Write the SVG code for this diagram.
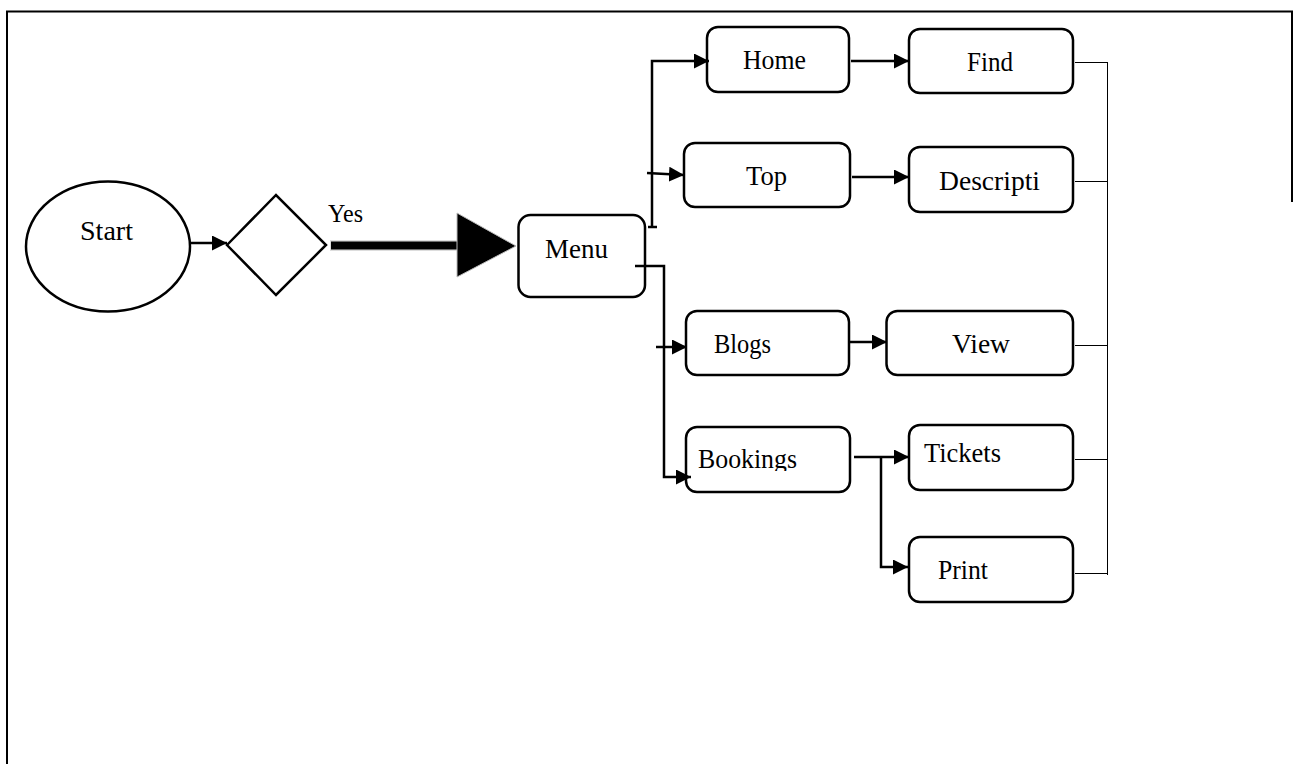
<svg xmlns="http://www.w3.org/2000/svg" width="1294" height="764" viewBox="0 0 1294 764">
<style>
.box{fill:#fff;stroke:#000;stroke-width:2.5}
.lbl{font-family:"Liberation Serif","Times New Roman",serif;font-size:28px;fill:#000}
.ln{fill:none;stroke:#000;stroke-width:2.5}
.thin{fill:none;stroke:#000;stroke-width:1}
</style>
<defs>
<marker id="ah" markerWidth="15" markerHeight="15" refX="15" refY="7.5" orient="auto" markerUnits="userSpaceOnUse">
<path d="M0,0 L15,7.5 L0,15 Z" fill="#000"/>
</marker>
<clipPath id="bkclip"><rect x="680" y="420" width="180" height="51"/></clipPath>
</defs>
<rect width="1294" height="764" fill="#fff"/>
<g id="frame">
<path d="M7,764 L7,11.5 L1292,11.5 L1292,202" fill="none" stroke="#000" stroke-width="2"/>
</g>
<g id="start"><ellipse cx="108" cy="246.5" rx="82" ry="65" class="box"/><text x="80" y="240" class="lbl" textLength="53" lengthAdjust="spacingAndGlyphs">Start</text></g>
<g id="decision"><path d="M227,245 L276,195 L326,245 L276,295 Z" class="box"/></g>
<g id="yes-label"><text x="328" y="222" class="lbl" style="font-size:26px" textLength="35" lengthAdjust="spacingAndGlyphs">Yes</text></g>
<g id="menu"><rect x="518.5" y="215" width="126.5" height="82" rx="12" class="box"/><text x="545" y="258" class="lbl" textLength="63" lengthAdjust="spacingAndGlyphs">Menu</text></g>
<g id="home"><rect x="707" y="27" width="142" height="65" rx="11" class="box"/><text x="743" y="69" class="lbl" textLength="63" lengthAdjust="spacingAndGlyphs">Home</text></g>
<g id="find"><rect x="909" y="29" width="164" height="64" rx="11" class="box"/><text x="967" y="71" class="lbl" textLength="46" lengthAdjust="spacingAndGlyphs">Find</text></g>
<g id="top"><rect x="684" y="143" width="166" height="64" rx="11" class="box"/><text x="746" y="185" class="lbl" textLength="41" lengthAdjust="spacingAndGlyphs">Top</text></g>
<g id="descripti"><rect x="909" y="147" width="164" height="65" rx="11" class="box"/><text x="939" y="190" class="lbl" textLength="101" lengthAdjust="spacingAndGlyphs">Descripti</text></g>
<g id="blogs"><rect x="686" y="311" width="163" height="64" rx="11" class="box"/><text x="714" y="353" class="lbl" textLength="57" lengthAdjust="spacingAndGlyphs">Blogs</text></g>
<g id="view"><rect x="886.5" y="311" width="186.5" height="64" rx="11" class="box"/><text x="952" y="353" class="lbl" textLength="58" lengthAdjust="spacingAndGlyphs">View</text></g>
<g id="bookings"><rect x="686" y="427" width="164" height="65" rx="11" class="box"/><text x="698" y="468" class="lbl" clip-path="url(#bkclip)" textLength="99" lengthAdjust="spacingAndGlyphs">Bookings</text></g>
<g id="tickets"><rect x="909" y="425" width="164" height="65" rx="11" class="box"/><text x="924" y="462" class="lbl" textLength="77" lengthAdjust="spacingAndGlyphs">Tickets</text></g>
<g id="print"><rect x="909" y="537" width="164" height="65" rx="11" class="box"/><text x="938" y="579" class="lbl" textLength="50" lengthAdjust="spacingAndGlyphs">Print</text></g>
<g id="connectors">
<path d="M190,243 L227,243" class="ln" stroke-width="2" marker-end="url(#ah)"/>
<rect x="330" y="240" width="128" height="11" fill="#ddd"/>
<rect x="331" y="241.5" width="127" height="8" fill="#000"/>
<path d="M457,213 L516,246 L457,277 Z" fill="#000" stroke="#bbb" stroke-width="1"/>
<path d="M652,228 L652,61 L709,61" class="ln" marker-end="url(#ah)"/>
<path d="M648,227 L657,227" class="ln" stroke-width="1.5"/>
<path d="M647,173 L684,175" class="ln" marker-end="url(#ah)"/>
<path d="M635,266 L664,266 L664,477 L691,477" class="ln" marker-end="url(#ah)"/>
<path d="M656,347 L687,347" class="ln" marker-end="url(#ah)"/>
<path d="M851,61 L909,61" class="ln" marker-end="url(#ah)"/>
<path d="M852,177 L909,177" class="ln" marker-end="url(#ah)"/>
<path d="M850,342 L887,342" class="ln" marker-end="url(#ah)"/>
<path d="M854,457 L909,457" class="ln" marker-end="url(#ah)"/>
<path d="M881,457 L881,567 L908,567" class="ln" marker-end="url(#ah)"/>
<path d="M1075,62.5 L1107.5,62.5 M1075,181.5 L1107.5,181.5 M1075,345.5 L1107.5,345.5 M1075,459.5 L1107.5,459.5 M1075,573.5 L1107.5,573.5 M1107.5,62 L1107.5,575" class="thin"/>
</g>
</svg>
